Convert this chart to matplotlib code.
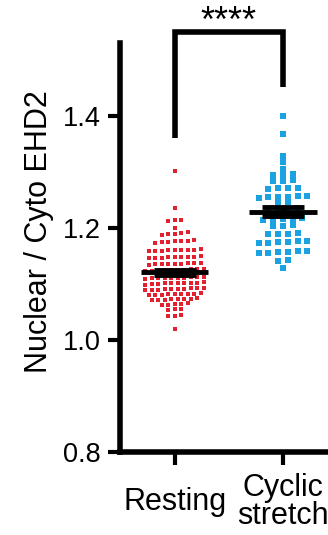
import numpy as np
import matplotlib
matplotlib.use('Agg')
from matplotlib import pyplot as plt

# nuclear / cytoplasmic EHD2 ratio, one value per cell
resting = [1.302,
           1.236,
           1.215, 1.213, 1.214,
           1.200,
           1.189, 1.191, 1.190, 1.188, 1.192,
           1.175, 1.177, 1.176, 1.174, 1.178, 1.176, 1.175,
           1.159, 1.161, 1.160, 1.158, 1.162, 1.160, 1.159, 1.161, 1.160,
           1.147, 1.149, 1.148, 1.146, 1.150, 1.148, 1.147, 1.149, 1.148,
           1.135, 1.137, 1.136, 1.134, 1.138, 1.136, 1.135, 1.137, 1.136,
           1.124, 1.126, 1.125, 1.123, 1.127, 1.125, 1.124, 1.126, 1.125, 1.125,
           1.110, 1.112, 1.111, 1.109, 1.113, 1.111, 1.110, 1.112, 1.111, 1.111,
           1.100, 1.102, 1.101, 1.099, 1.103, 1.101, 1.100, 1.102, 1.101, 1.101,
           1.090, 1.092, 1.091, 1.089, 1.093, 1.091, 1.090, 1.092, 1.091, 1.091,
           1.081, 1.083, 1.082, 1.080, 1.084, 1.082, 1.081, 1.083, 1.082,
           1.072, 1.074, 1.073, 1.071, 1.075, 1.073, 1.072, 1.074,
           1.063, 1.065, 1.064, 1.062, 1.066,
           1.054, 1.056, 1.055,
           1.042, 1.044, 1.043,
           1.020]

stretch = [1.400,
           1.368,
           1.329,
           1.318,
           1.306,
           1.295, 1.294, 1.296,
           1.284, 1.285, 1.283,
           1.271, 1.270, 1.272, 1.271,
           1.256, 1.255, 1.257, 1.256, 1.254, 1.257,
           1.246, 1.245,
           1.234, 1.235, 1.233, 1.234,
           1.216, 1.215, 1.217, 1.216, 1.215,
           1.204, 1.205, 1.203,
           1.190, 1.191, 1.189, 1.190,
           1.175, 1.176, 1.174, 1.175, 1.177, 1.174,
           1.157, 1.158, 1.156, 1.157, 1.159, 1.156,
           1.141, 1.142,
           1.129]

groups = ['Resting', 'Cyclic\nstretch']
colors = ['#E5202E', '#1AA3E0']
steps = [0.06, 0.09]
sizes = [11, 17]
yticks = [0.8, 1.0, 1.2, 1.4]


def swarm_x(vals, center, step, row_h=0.006):
    # put close values side by side in rows, centred on the column
    vals = np.asarray(vals)
    order = np.argsort(vals)
    rows, start = [], None
    for i in order:
        if start is None or vals[i] - start > row_h:
            rows.append([])
            start = vals[i]
        rows[-1].append(i)
    xs = np.empty(len(vals))
    for r in rows:
        n = len(r)
        xs[r] = center + (np.arange(n) - (n - 1) / 2) * step
    return xs


plt.rcParams['font.family'] = ['Liberation Sans', 'DejaVu Sans']

fig = plt.figure(figsize=(3.28, 5.35), dpi=100)
ax = fig.add_axes([0.367, 0.155, 0.694, 0.7645])

for i, vals in enumerate([resting, stretch]):
    xs = swarm_x(vals, i, steps[i])
    ax.scatter(xs, vals, marker='s', s=sizes[i], color=colors[i], linewidths=0, zorder=2)
    m = np.mean(vals)
    sem = np.std(vals, ddof=1) / np.sqrt(len(vals))
    ax.hlines(m, i - 0.31, i + 0.31, color='black', lw=3.5, zorder=3)
    ax.errorbar(i, m, yerr=sem, color='black', capsize=15, capthick=3.5,
                elinewidth=3.5, zorder=3)

# significance bracket
ax.plot([0, 0, 1, 1], [1.36, 1.55, 1.55, 1.452], color='black', lw=4,
        clip_on=False, solid_capstyle='butt', solid_joinstyle='miter')
ax.text(0.5, 1.566, '****', ha='center', va='center', fontsize=26)

ax.set_xlim(-0.5, 1.6)
ax.set_ylim(0.8, 1.53)
ax.set_yticks(yticks)
ax.set_yticklabels(['%.1f' % t for t in yticks], fontsize=19.5)
ax.set_xticks([0, 1])
ax.set_xticklabels(groups, fontsize=22, linespacing=0.92)
for lab in ax.get_xticklabels():
    lab.set_verticalalignment('center')
    lab.set_multialignment('center')
ax.set_ylabel('Nuclear / Cyto EHD2', fontsize=22)
ax.yaxis.set_label_coords(-0.29, 0.538)

for side in ['top', 'right']:
    ax.spines[side].set_visible(False)
for side in ['left', 'bottom']:
    ax.spines[side].set_linewidth(4)
ax.tick_params(axis='y', length=9, width=3, pad=5)
ax.tick_params(axis='x', length=9, width=3, pad=27)

fig.savefig('out.png', dpi=100)
